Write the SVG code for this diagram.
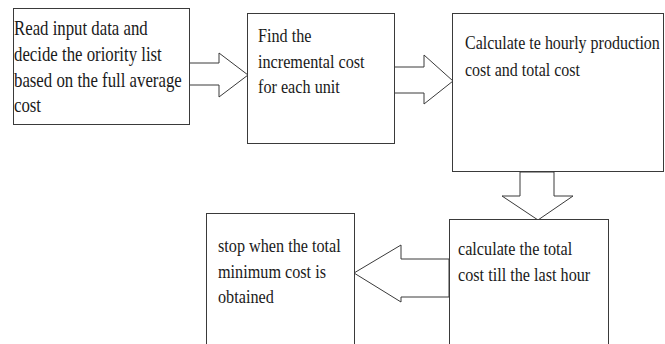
<svg xmlns="http://www.w3.org/2000/svg" width="665" height="344" viewBox="0 0 665 344">
<style>
.box{fill:#fff;stroke:#3a3a3a;stroke-width:1}
.arr{fill:#fff;stroke:#3a3a3a;stroke-width:1;stroke-linejoin:miter}
text{font-family:"Liberation Serif","Times New Roman",serif;font-size:16.2px;fill:#1a1a1a}
.big{font-size:16.8px}
.sm{font-size:16px}
</style>
<rect width="665" height="344" fill="#fff"/>
<g id="connectors">
<polygon class="arr" points="189,63 219,63 219,53 248,75 219,97 219,85 189,85"/>
<polygon class="arr" points="394,67 424,67 424,55 453,81 424,104 424,93 394,93"/>
<polygon class="arr" points="520,172 520,196 502,196 538,220 573,196 554,196 554,172"/>
<polygon class="arr" points="449,259 401,259 401,245 354,273 401,302 401,297 449,297"/>
</g>
<g id="n1">
<rect class="box" x="13.5" y="8.5" width="176" height="116"/>
<text class="big" transform="matrix(1,0,0,1.22,14,35)">Read input data and</text>
<text class="big" transform="matrix(1,0,0,1.22,14,61)">decide the oriority list</text>
<text class="big" transform="matrix(1,0,0,1.22,14,87)">based on the full average</text>
<text class="big" transform="matrix(1,0,0,1.22,14,112)">cost</text>
</g>
<g id="n2">
<rect class="box" x="247.5" y="13.5" width="147" height="130"/>
<text transform="matrix(1,0,0,1.22,258,42)">Find the</text>
<text transform="matrix(1,0,0,1.22,258,68)">incremental cost</text>
<text transform="matrix(1,0,0,1.22,258,93)">for each unit</text>
</g>
<g id="n3">
<rect class="box" x="452.5" y="13.5" width="211" height="158"/>
<text class="sm" transform="matrix(1,0,0,1.22,465,49)">Calculate te hourly production</text>
<text class="sm" transform="matrix(1,0,0,1.22,465,76)">cost and total cost</text>
</g>
<g id="n4">
<rect class="box" x="449.5" y="219.5" width="159" height="140"/>
<text transform="matrix(1,0,0,1.22,458,255)">calculate the total</text>
<text transform="matrix(1,0,0,1.22,458,281)">cost till the last hour</text>
</g>
<g id="n5">
<rect class="box" x="206.5" y="213.5" width="148" height="145"/>
<text transform="matrix(1,0,0,1.22,218,252)">stop when the total</text>
<text transform="matrix(1,0,0,1.22,218,278)">minimum cost is</text>
<text transform="matrix(1,0,0,1.22,218,303)">obtained</text>
</g>
</svg>
